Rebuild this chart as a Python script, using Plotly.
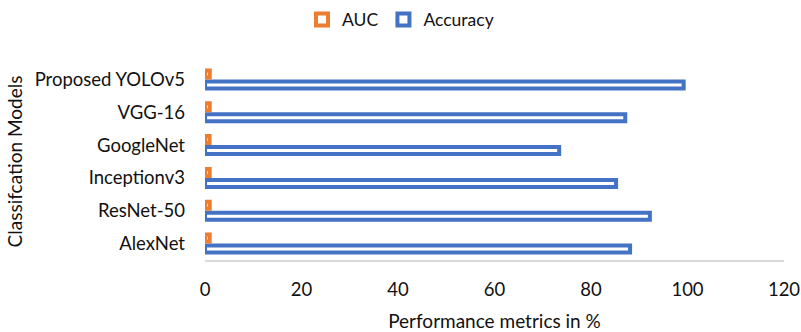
import plotly.graph_objects as go

# Classification models (bottom to top) and their scores in %
models = ["AlexNet", "ResNet-50", "Inceptionv3", "GoogleNet", "VGG-16", "Proposed YOLOv5"]
accuracy = [88.1, 92.2, 85.2, 73.4, 87.1, 99.2]
auc = [0.97, 0.98, 0.97, 0.95, 0.98, 0.99]

x_ticks = [0, 20, 40, 60, 80, 100, 120]

ORANGE = "#ED7D31"
BLUE = "#4472C4"
FONT = "Lato"
TEXT = "#111111"

fig = go.Figure()

# Accuracy first so it sits below AUC within each group
fig.add_trace(go.Bar(
    y=models, x=accuracy, name="Accuracy", orientation="h",
    marker=dict(color="white", line=dict(color=BLUE, width=4)),
    legendrank=2,
))
fig.add_trace(go.Bar(
    y=models, x=auc, name="AUC", orientation="h",
    marker=dict(color="white", line=dict(color=ORANGE, width=4)),
    legendrank=1,
))

fig.update_layout(
    width=801, height=332,
    margin=dict(l=205, r=17, t=63, b=72),
    paper_bgcolor="white", plot_bgcolor="white",
    barmode="group", bargap=0.33, bargroupgap=0.36,
    font=dict(family=FONT, size=18, color=TEXT),
    showlegend=True,
    legend=dict(orientation="h", x=0.5, xanchor="center", xref="container",
                y=0.995, yanchor="top", yref="container",
                font=dict(size=17.5, color=TEXT), itemwidth=30,
                traceorder="normal"),
    xaxis=dict(range=[0, 120], tickvals=x_ticks, showgrid=False, zeroline=False,
               showline=True, linecolor="#D9D9D9", linewidth=2,
               automargin=False,
               tickfont=dict(size=18.5), ticklabelstandoff=12,
               title=dict(text="Performance metrics in %", font=dict(size=19), standoff=22)),
    yaxis=dict(showgrid=False, zeroline=False, showline=False,
               tickfont=dict(size=18.5), ticklabelstandoff=19,
               title=dict(text="Classifcation Models", font=dict(size=19), standoff=6)),
)

fig.write_html("out.html")
